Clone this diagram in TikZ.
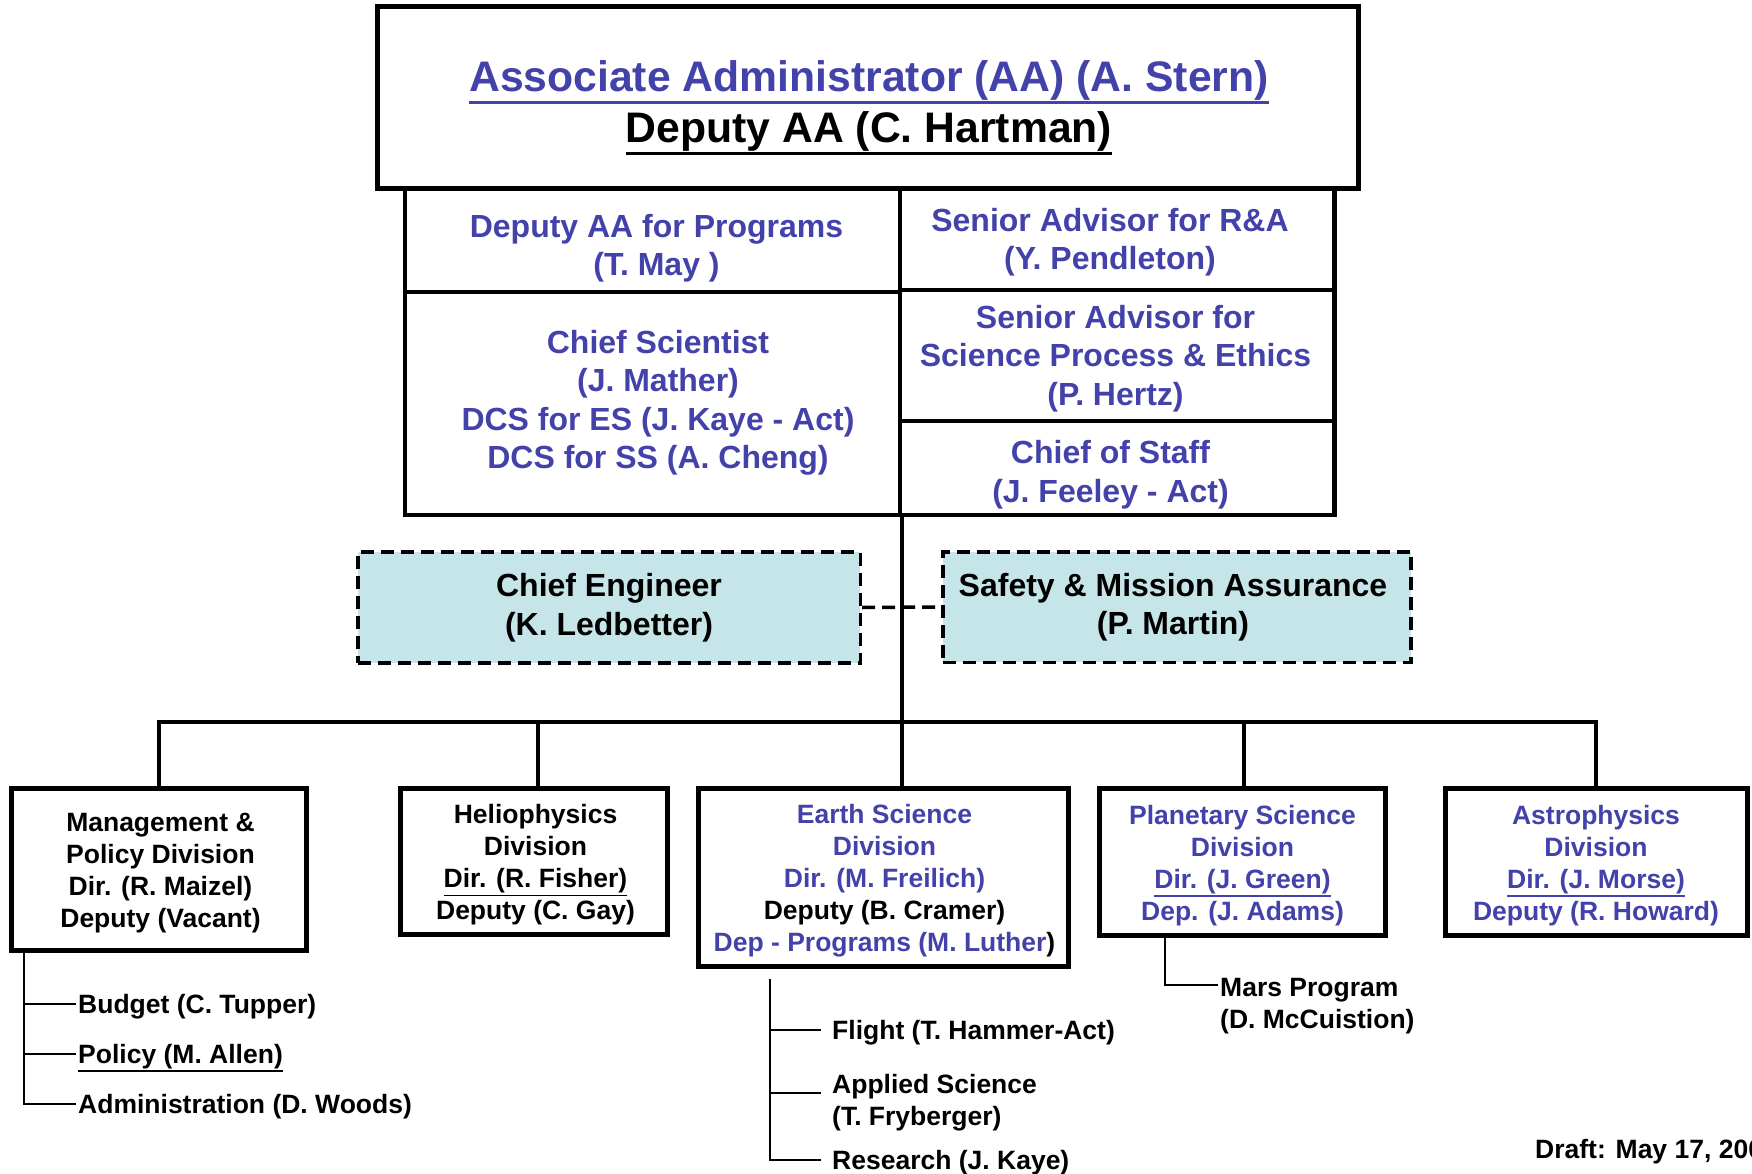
\documentclass[tikz,border=0pt]{standalone}
\usepackage{fontspec}
\setmainfont{Liberation Sans}
\usetikzlibrary{shadows}
\definecolor{nasablue}{RGB}{66,66,170}
\definecolor{lightcyan}{RGB}{198,229,232}
\newcommand\myul[2][1.5pt]{\vtop{\hbox{#2}\kern1.2pt\hrule height #1}}
\newcommand\fsTitle{\fontsize{42.7}{51}\selectfont}
\newcommand\fsCell{\fontsize{32}{38.5}\selectfont}
\newcommand\fsDiv{\fontsize{26.5}{32}\selectfont}
\begin{document}
\begin{tikzpicture}[x=1pt,y=-1pt,
  topbox/.style={draw, line width=5pt, inner sep=0pt},
  cellbox/.style={draw, line width=4.5pt, inner sep=0pt},
  engbox/.style={draw, fill=lightcyan, line width=3.5pt, dash pattern=on 13pt off 7pt, inner sep=0pt},
  divbox/.style={draw, fill=white, line width=5pt, inner sep=0pt,
    drop shadow={shadow xshift=3pt, shadow yshift=-3pt, fill=black, opacity=1}},
  titletext/.style={inner sep=0pt, align=center, font=\bfseries\fsTitle},
  celltext/.style={inner sep=0pt, align=center, text=nasablue, font=\bfseries\fsCell},
  engtext/.style={inner sep=0pt, align=center, font=\bfseries\fsCell},
  divtext/.style={inner sep=0pt, align=center, font=\bfseries\fsDiv},
  subitem/.style={anchor=west, inner xsep=2pt, inner ysep=0pt, text height=19pt, text depth=0pt, font=\bfseries\fsDiv},
  subitemml/.style={anchor=west, inner xsep=2pt, inner ysep=0pt, align=left, font=\bfseries\fsDiv},
  conn/.style={line width=4pt},
  thinconn/.style={line width=2pt}
]
\useasboundingbox (0,0) rectangle (1752,1174);

% top
\node[topbox, minimum width=981pt, minimum height=182pt] (aa) at (868,98) {};
\node[titletext] (aaT) at (869,107.5)
  {\textcolor{nasablue}{\myul[2.5pt]{Associate Administrator (AA) (A. Stern)}}\\\myul[2.5pt]{Deputy AA (C. Hartman)}};

% cells
\node[cellbox, minimum width=495pt, minimum height=103pt] (dap) at (652.5,240.5) {};
\node[cellbox, minimum width=434.5pt, minimum height=101pt] (sara) at (1117.25,239.5) {};
\node[cellbox, minimum width=495pt, minimum height=223pt] (cs) at (652.5,403.5) {};
\node[cellbox, minimum width=434.5pt, minimum height=131pt] (spe) at (1117.25,355.5) {};
\node[cellbox, minimum width=434.5pt, minimum height=94pt] (cos) at (1117.25,468) {};
\node[celltext] (dapT) at (656.5,248) {Deputy AA for Programs\\(T. May )};
\node[celltext] (saraT) at (1110,242.4) {Senior Advisor for R\&A\\(Y. Pendleton)};
\node[celltext] (csT) at (658,403) {Chief Scientist\\(J. Mather)\\DCS for ES (J. Kaye - Act)\\DCS for SS (A. Cheng)};
\node[celltext] (speT) at (1115.5,358.4) {Senior Advisor for\\Science Process \& Ethics\\(P. Hertz)};
\node[celltext] (cosT) at (1110.5,474.8) {Chief of Staff\\(J. Feeley - Act)};

% dashed boxes
\node[engbox, minimum width=502.5pt, minimum height=111pt] (ce) at (609,607.5) {};
\node[engbox, minimum width=468pt, minimum height=110.5pt] (sma) at (1177,607) {};
\node[engtext] (ceT) at (609,607.5) {Chief Engineer\\(K. Ledbetter)};
\node[engtext] (smaT) at (1173,607) {Safety \& Mission Assurance\\(P. Martin)};

% divisions
\node[divbox, minimum width=295pt, minimum height=162pt] (mgmt) at (158.5,869) {};
\node[divbox, minimum width=267pt, minimum height=146pt] (helio) at (533.5,861) {};
\node[divbox, minimum width=370pt, minimum height=178pt] (earth) at (883,877) {};
\node[divbox, minimum width=286pt, minimum height=147pt] (plan) at (1242,861.5) {};
\node[divbox, minimum width=302pt, minimum height=147pt] (astro) at (1596,861.5) {};
\node[divtext] (mgmtT) at (160.5,873) {Management \&\\Policy Division\\Dir. (R. Maizel)\\Deputy (Vacant)};
\node[divtext] (helioT) at (535.5,865) {Heliophysics\\Division\\\myul{Dir. (R. Fisher)}\\Deputy (C. Gay)};
\node[divtext, text=nasablue] (earthT) at (884.5,881) {Earth Science\\Division\\Dir. (M. Freilich)\\\textcolor{black}{Deputy (B. Cramer)}\\Dep - Programs (M. Luther\textcolor{black}{)}};
\node[divtext, text=nasablue] (planT) at (1242.5,865.5) {Planetary Science\\Division\\\myul{Dir. (J. Green)}\\Dep. (J. Adams)};
\node[divtext, text=nasablue] (astroT) at (1596,865.5) {Astrophysics\\Division\\\myul{Dir. (J. Morse)}\\Deputy (R. Howard)};

% main connectors
\coordinate (bus) at (900,722);
\coordinate (hdrop) at ([xshift=4pt]helio.north);
\coordinate (pdrop) at ([xshift=2pt]plan.north);
\draw[conn] (cs.south east) -- (cs.south east |- earth.north);
\draw[line width=3.5pt, dash pattern=on 13pt off 7pt] (ce.east) -- (sma.west);
\draw[conn] (mgmt.north) -- (mgmt.north |- bus) -- (astro.north |- bus) -- (astro.north);
\draw[conn] (hdrop) -- (hdrop |- bus);
\draw[conn] (pdrop) -- (pdrop |- bus);

% management sub-items
\coordinate (mtop) at ([xshift=15pt]mgmt.south west);
\node[subitem] (budget) at (76,1004) {Budget (C. Tupper)};
\node[subitem] (policy) at (76,1054) {\myul{Policy (M. Allen)}};
\node[subitem] (admin) at (76,1104) {Administration (D. Woods)};
\draw[thinconn] (mtop) |- (admin.west);
\draw[thinconn] (mtop |- budget.west) -- (budget.west);
\draw[thinconn] (mtop |- policy.west) -- (policy.west);

% earth science sub-items
\coordinate (etop) at (770,979);
\node[subitem, inner xsep=11pt] (flight) at (821,1030) {Flight (T. Hammer-Act)};
\node[subitemml, inner xsep=11pt] (applied) at (821,1102.2) {Applied Science\\(T. Fryberger)};
\node[subitem, inner xsep=11pt] (research) at (821,1160) {Research (J. Kaye)};
\coordinate (apt) at ([yshift=9pt]applied.west);
\draw[thinconn] (etop) |- (research.west);
\draw[thinconn] (etop |- flight.west) -- (flight.west);
\draw[thinconn] (apt -| etop) -- (apt);

% planetary sub-item
\coordinate (ptop) at ([xshift=68pt]plan.south west);
\node[subitemml] (mars) at (1218,1006) {Mars Program\\(D. McCuistion)};
\coordinate (mpt) at ([yshift=21pt]mars.west);
\draw[thinconn] (ptop) |- (mpt);

% draft note (cut by the page edge as in the original)
\begin{scope}
\clip (0,0) rectangle (1752,1174);
\node[subitem] (draft) at (1533,1149) {Draft: May 17, 200};
\end{scope}
\end{tikzpicture}
\end{document}
